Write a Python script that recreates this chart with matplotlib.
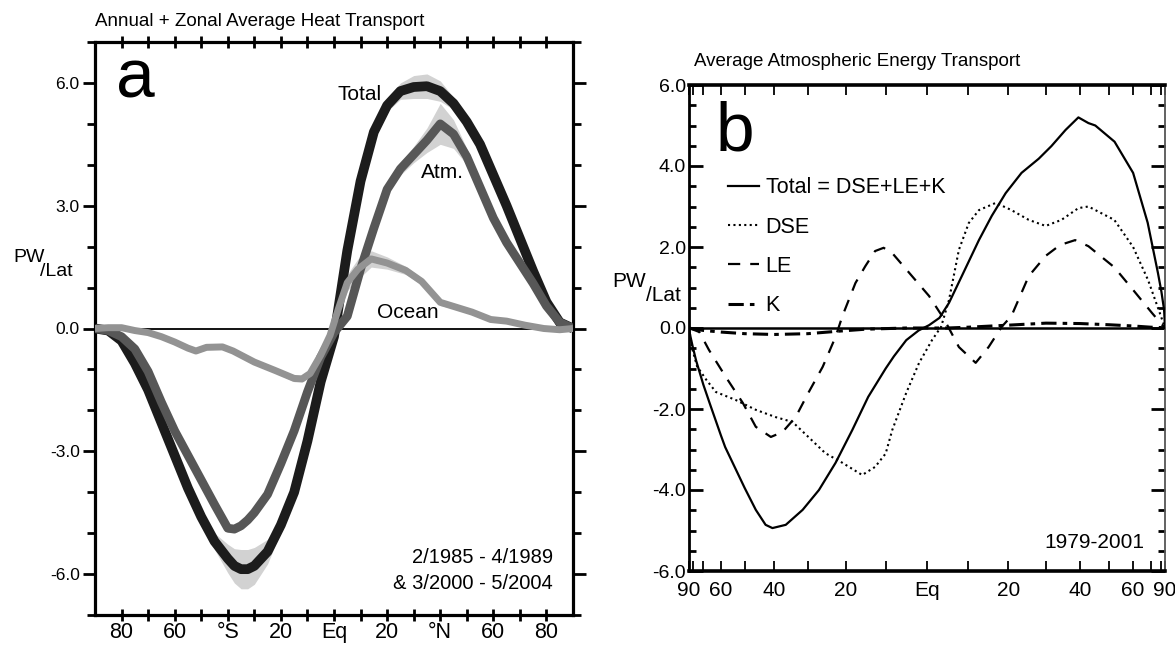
import numpy as np
import matplotlib
matplotlib.use("Agg")
import matplotlib.pyplot as plt

plt.rcParams["font.family"] = ["Liberation Sans", "DejaVu Sans"]

# ---- panel a: annual + zonal average heat transport (PW) ----
lat_a = [-90, -85, -80, -75, -70, -65, -60, -55, -50, -45, -40, -37.5, -35, -32.5, -30, -25, -20, -15, -10, -5,
         0, 5, 10, 15, 20, 25, 30, 35, 40, 45, 50, 55, 60, 65, 70, 75, 80, 85, 90]
total_a = [0, -0.05, -0.3, -0.85, -1.5, -2.3, -3.1, -3.9, -4.6, -5.2, -5.62, -5.8, -5.88, -5.88, -5.8, -5.45,
           -4.8, -4.0, -2.75, -1.3, -0.2, 1.9, 3.6, 4.8, 5.45, 5.8, 5.9, 5.92, 5.8, 5.5, 5.05, 4.5, 3.75, 3.0,
           2.2, 1.4, 0.65, 0.15, 0]
total_err = [0.05, 0.05, 0.08, 0.1, 0.1, 0.1, 0.1, 0.12, 0.15, 0.2, 0.35, 0.42, 0.48, 0.48, 0.45, 0.3, 0.15,
             0.1, 0.1, 0.1, 0.1, 0.1, 0.1, 0.12, 0.15, 0.2, 0.28, 0.3, 0.25, 0.15, 0.1, 0.1, 0.1, 0.1, 0.1,
             0.08, 0.05, 0.05, 0.05]
atm_a = [0, -0.05, -0.2, -0.5, -1.05, -1.8, -2.5, -3.1, -3.7, -4.3, -4.88, -4.9, -4.82, -4.68, -4.5, -4.05,
         -3.3, -2.5, -1.55, -0.7, -0.1, 0.3, 1.45, 2.45, 3.4, 3.9, 4.25, 4.6, 5.0, 4.75, 4.2, 3.45, 2.7, 2.1,
         1.6, 1.1, 0.55, 0.15, 0]
atm_err = [0.05, 0.05, 0.05, 0.08, 0.08, 0.08, 0.08, 0.08, 0.08, 0.08, 0.1, 0.1, 0.1, 0.1, 0.1, 0.08, 0.08,
           0.08, 0.08, 0.08, 0.08, 0.08, 0.1, 0.1, 0.12, 0.15, 0.2, 0.3, 0.5, 0.35, 0.2, 0.12, 0.1, 0.08,
           0.08, 0.05, 0.05, 0.05, 0.05]
lat_ocean = [-90, -85, -80, -75, -70, -65, -60, -55, -52, -48, -42, -38, -30, -22, -15, -12, -9, -5, -1.5,
             1.6, 5, 9, 14, 20, 27, 33, 40, 44, 52, 59, 65, 72, 79, 85, 90]
ocean_a = [0, 0.02, 0.02, -0.05, -0.1, -0.2, -0.33, -0.48, -0.55, -0.46, -0.45, -0.55, -0.82, -1.03, -1.22,
           -1.23, -1.1, -0.65, -0.17, 0.47, 1.12, 1.45, 1.7, 1.6, 1.42, 1.15, 0.64, 0.56, 0.4, 0.22, 0.18,
           0.08, 0.0, -0.03, 0]
ocean_err = [0.05, 0.05, 0.05, 0.05, 0.05, 0.06, 0.06, 0.06, 0.06, 0.06, 0.06, 0.06, 0.06, 0.06, 0.08, 0.08,
             0.08, 0.08, 0.1, 0.15, 0.2, 0.25, 0.2, 0.15, 0.1, 0.08, 0.08, 0.06, 0.06, 0.05, 0.05, 0.05, 0.05,
             0.05, 0.05]
xticks_a = [-80, -70, -60, -50, -40, -30, -20, -10, 0, 10, 20, 30, 40, 50, 60, 70, 80]
xlabels_a = ["80", "", "60", "", "°S", "", "20", "", "Eq", "", "20", "", "°N", "", "60", "", "80"]

# ---- panel b: average atmospheric energy transport (PW) ----
lat_tot = [-90, -85, -80, -76, -70, -66, -60, -58, -50, -46, -42.7, -40.5, -36.4, -31.5, -27, -22.6, -18.3,
           -14.3, -10, -8, -5, -2, 0.5, 3, 5.3, 8.4, 12.6, 15.8, 19.3, 23.4, 28, 31.5, 35.6, 39.5, 42.7, 45,
           52, 60, 68, 76, 80, 85, 90]
tot_b = [0, -0.15, -0.45, -0.8, -1.4, -1.85, -2.65, -2.94, -3.95, -4.49, -4.86, -4.94, -4.86, -4.49, -4.0,
         -3.33, -2.52, -1.7, -1.0, -0.7, -0.3, -0.06, 0.07, 0.25, 0.62, 1.28, 2.17, 2.77, 3.33, 3.83, 4.18,
         4.49, 4.89, 5.2, 5.06, 5.0, 4.6, 3.83, 2.6, 1.36, 0.9, 0.45, 0]
lat_dse = [-90, -80, -75, -68, -62.5, -53.4, -46, -39.5, -34.4, -29.9, -25.3, -20.8, -15.8, -12.6, -10,
           -8.4, -5, -1.9, 1.2, 3.4, 5.3, 7.7, 10.1, 12.6, 16.8, 20.8, 25.3, 29.9, 34.4, 39.5, 42.7, 51.9,
           60, 68.3, 78, 90]
dse_b = [0, -0.55, -0.95, -1.28, -1.58, -1.78, -2.02, -2.2, -2.32, -2.69, -3.09, -3.33, -3.63, -3.43, -3.1,
         -2.52, -1.6, -0.86, -0.3, 0.03, 0.69, 1.93, 2.59, 2.91, 3.09, 2.91, 2.67, 2.52, 2.67, 2.96, 3.0,
         2.67, 2.0, 1.18, 0.37, 0]
lat_le = [-90, -73, -66.4, -57.7, -50.7, -46, -41, -37.4, -33.5, -29.9, -26, -22.6, -20.8, -17.5, -15,
          -12.6, -10.5, -8.4, -3.6, 0.5, 3.6, 5, 7.7, 11.8, 15, 18.3, 20.8, 25.3, 29.9, 34, 38.5, 42.7, 51.9,
          60, 71, 80, 90]
le_b = [0, -0.1, -0.54, -1.21, -1.85, -2.44, -2.69, -2.57, -2.2, -1.6, -0.96, -0.22, 0.3, 1.11, 1.53, 1.9,
        1.98, 1.85, 1.28, 0.79, 0.3, 0.05, -0.47, -0.86, -0.47, 0.03, 0.3, 1.28, 1.78, 2.05, 2.17, 2.02,
        1.5, 0.94, 0.37, 0.1, 0]
lat_k = [-90, -80, -70, -60, -50, -40, -30, -22, -15, -5, 5, 10, 20, 30, 40, 50, 60, 70, 80, 90]
k_b = [0, -0.02, -0.06, -0.1, -0.14, -0.16, -0.14, -0.08, -0.03, 0.0, 0.0, 0.02, 0.07, 0.12, 0.11, 0.08,
       0.05, 0.02, 0.01, 0]
xticks_b = [-90, -80, -70, -60, -50, -40, -30, -20, -10, 0, 10, 20, 30, 40, 50, 60, 70, 80, 90]
xlabels_b = ["90", "", "", "60", "", "40", "", "20", "", "Eq", "", "20", "", "40", "", "60", "", "", "90"]

fig = plt.figure(figsize=(11.75, 6.46), dpi=100)

# ================= panel a =================
ax = fig.add_axes([95 / 1175, 31 / 646, 478 / 1175, 573 / 646])
for lat, v, e in [(lat_a, total_a, total_err), (lat_a, atm_a, atm_err), (lat_ocean, ocean_a, ocean_err)]:
    v = np.array(v)
    e = np.array(e)
    ax.fill_between(lat, v - e, v + e, color="#d2d2d2", lw=0, zorder=1)
ax.axhline(0, color="black", lw=1.3, zorder=2)
ax.plot(lat_a, total_a, color="#1c1c1c", lw=7, solid_capstyle="butt", solid_joinstyle="round", zorder=3)
ax.plot(lat_a, atm_a, color="#575757", lw=6.3, solid_capstyle="butt", solid_joinstyle="round", zorder=4)
ax.plot(lat_ocean, ocean_a, color="#939393", lw=5, solid_capstyle="butt", solid_joinstyle="round", zorder=5)

ax.set_xlim(-90, 90)
ax.set_ylim(-7, 7)
ax.set_xticks(xticks_a)
ax.set_xticklabels(xlabels_a, fontsize=15.5)
ax.set_yticks([-6, -3, 0, 3, 6])
ax.set_yticklabels(["-6.0", "-3.0", "0.0", "3.0", "6.0"], fontsize=12.5)
ax.set_yticks(np.arange(-7, 8, 1), minor=True)
ax.tick_params(axis="x", which="both", direction="inout", length=8, width=2, top=True, bottom=True, pad=1)
ax.tick_params(axis="y", which="major", direction="out", length=9, width=2, left=True, right=True, pad=2)
ax.tick_params(axis="y", which="minor", direction="out", length=6, width=2, left=True, right=True)
for s in ax.spines.values():
    s.set_linewidth(2.3)

ax.text(9.8, 5.71, "Total", fontsize=15, ha="center", va="center", zorder=6)
ax.text(40.7, 3.82, "Atm.", fontsize=15, ha="center", va="center", zorder=6)
ax.text(27.9, 0.39, "Ocean", fontsize=15, ha="center", va="center", zorder=6)
ax.text(0.044, 0.904, "a", fontsize=50, transform=ax.transAxes, va="baseline", ha="left")
ax.text(0.958, 0.0995, "2/1985 - 4/1989", fontsize=14.5, transform=ax.transAxes, ha="right", va="center")
ax.text(0.958, 0.0556, "& 3/2000 - 5/2004", fontsize=14.5, transform=ax.transAxes, ha="right", va="center")
fig.text(95 / 1175, 1 - 22 / 646, "Annual + Zonal Average Heat Transport", fontsize=13.5, va="center")
fig.text(13 / 1175, 1 - 262 / 646, "PW", fontsize=14, va="baseline")
fig.text(40 / 1175, 1 - 276 / 646, "/Lat", fontsize=14, va="baseline")

# ================= panel b =================
bx = fig.add_axes([689 / 1175, 75 / 646, 476 / 1175, 486 / 646])


def fwd(x):
    return np.sin(np.radians(np.clip(x, -90, 90)))


def inv(x):
    return np.degrees(np.arcsin(np.clip(x, -1, 1)))


bx.set_xscale("function", functions=(fwd, inv))
bx.axhline(0, color="black", lw=1.8, zorder=1)
bx.plot(lat_tot, tot_b, color="black", lw=1.6, label="Total = DSE+LE+K", zorder=3)
bx.plot(lat_dse, dse_b, color="black", lw=1.5, ls=(0, (1, 1.6)), label="DSE", zorder=3)
bx.plot(lat_le, le_b, color="black", lw=1.6, ls=(0, (5.5, 4.5)), label="LE", zorder=3)
bx.plot(lat_k, k_b, color="black", lw=2.2, ls=(0, (5, 2, 1.5, 2)), label="K", zorder=3)

bx.set_xlim(-90, 90)
bx.set_ylim(-6, 6)
bx.set_xticks(xticks_b)
bx.set_xticklabels(xlabels_b, fontsize=15)
bx.xaxis.set_minor_locator(matplotlib.ticker.NullLocator())
bx.set_yticks([-6, -4, -2, 0, 2, 4, 6])
bx.set_yticklabels(["-6.0", "-4.0", "-2.0", "0.0", "2.0", "4.0", "6.0"], fontsize=14)
bx.set_yticks(np.arange(-6, 6.01, 0.5), minor=True)
bx.tick_params(axis="x", which="both", direction="in", length=7, width=1.3, top=True, bottom=True, pad=7)
bx.tick_params(axis="y", which="major", direction="in", length=10, width=2, left=True, right=True, pad=2)
bx.tick_params(axis="y", which="minor", direction="in", length=5, width=2, left=True, right=True)
bx.spines["left"].set_linewidth(2)
bx.spines["top"].set_linewidth(2.6)
bx.spines["bottom"].set_linewidth(2.6)
bx.spines["right"].set_linewidth(1.3)
bx.spines["right"].set_color("#555555")

bx.legend(loc="center left", bbox_to_anchor=(0.082, 0.667), frameon=False, fontsize=15.5,
          handlelength=1.45, handletextpad=0.3, labelspacing=0.85, borderpad=0, borderaxespad=0)
bx.text(0.056, 0.866, "b", fontsize=50, transform=bx.transAxes, va="baseline", ha="left")
bx.text(0.956, 0.058, "1979-2001", fontsize=15, transform=bx.transAxes, ha="right", va="center")
fig.text(694 / 1175, 1 - 62 / 646, "Average Atmospheric Energy Transport", fontsize=13.5, va="center")
fig.text(612 / 1175, 1 - 287 / 646, "PW", fontsize=15, va="baseline")
fig.text(646 / 1175, 1 - 301 / 646, "/Lat", fontsize=15, va="baseline")

fig.savefig("out.png", dpi=100)
